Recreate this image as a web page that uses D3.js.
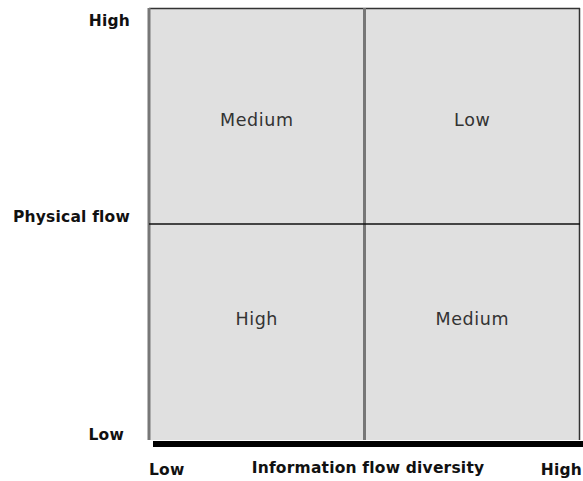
<!DOCTYPE html>
<html>
<head>
<meta charset="utf-8">
<script src="https://cdn.jsdelivr.net/npm/d3@7"></script>
<style>
  body { margin: 0; background: #fff; }
  svg { display: block; }
</style>
</head>
<body>
<svg id="chart" width="583" height="481"></svg>
<script>
// data
const xLevels = ["Low", "High"];
const yLevels = ["Low", "High"];
const xTitle = "Information flow diversity";
const yTitle = "Physical flow";
// ratings per cell, rows top to bottom
const topRow = ["Medium", "Low"];
const bottomRow = ["High", "Medium"];

const width = 583, height = 481;
const margin = { top: 8, right: 3, bottom: 41, left: 149 };
const svg = d3.select("#chart");

const x = d3.scaleBand().domain(xLevels).range([margin.left, width - margin.right]);
const y = d3.scaleBand().domain(yLevels.slice().reverse()).range([margin.top, height - margin.bottom]);

const cells = [];
topRow.forEach((r, i) => cells.push({ col: xLevels[i], row: "High", rating: r }));
bottomRow.forEach((r, i) => cells.push({ col: xLevels[i], row: "Low", rating: r }));

// label nudge per row (labels are not exactly centred in the original)
const rowNudge = { High: 5, Low: -12 };

// background box
svg.append("rect")
    .attr("x", margin.left).attr("y", margin.top)
    .attr("width", width - margin.left - margin.right)
    .attr("height", height - margin.top - margin.bottom)
    .attr("fill", "#e0e0e0");

// box edges
svg.append("line").attr("x1", margin.left).attr("x2", width - margin.right)
    .attr("y1", margin.top + 0.5).attr("y2", margin.top + 0.5)
    .attr("stroke", "#333").attr("stroke-width", 1.5);
svg.append("line").attr("x1", width - margin.right - 0.5).attr("x2", width - margin.right - 0.5)
    .attr("y1", margin.top).attr("y2", height - margin.bottom)
    .attr("stroke", "#333").attr("stroke-width", 1.5);
svg.append("line").attr("x1", margin.left).attr("x2", margin.left)
    .attr("y1", margin.top).attr("y2", height - margin.bottom)
    .attr("stroke", "#777").attr("stroke-width", 3);

// dividers
svg.append("line").attr("x1", x("High")).attr("x2", x("High"))
    .attr("y1", margin.top).attr("y2", height - margin.bottom)
    .attr("stroke", "#777").attr("stroke-width", 3);
svg.append("line").attr("x1", margin.left).attr("x2", width - margin.right)
    .attr("y1", y("Low")).attr("y2", y("Low"))
    .attr("stroke", "#111").attr("stroke-width", 1.5);

// thick bottom axis bar
svg.append("rect")
    .attr("x", margin.left + 4).attr("y", height - margin.bottom + 1)
    .attr("width", width - margin.left - 4)
    .attr("height", 6)
    .attr("fill", "#000");

// cell labels
svg.selectAll("text.cell").data(cells).enter().append("text")
    .attr("class", "cell")
    .attr("x", d => x(d.col) + x.bandwidth() / 2)
    .attr("y", d => y(d.row) + y.bandwidth() / 2 + rowNudge[d.row])
    .attr("text-anchor", "middle")
    .attr("dominant-baseline", "middle")
    .attr("font-family", "DejaVu Sans")
    .attr("font-size", 17.5)
    .attr("letter-spacing", 0.6)
    .attr("fill", "#333")
    .text(d => d.rating);

const bold = sel => sel.attr("font-family", "DejaVu Sans").attr("font-weight", "bold")
    .attr("font-size", 15.5).attr("letter-spacing", 0.2).attr("fill", "#111");

// y axis labels
svg.append("text").call(bold).attr("x", 130).attr("y", 26).attr("text-anchor", "end").text(yLevels[1]);
svg.append("text").call(bold).attr("x", 130).attr("y", 222).attr("text-anchor", "end").text(yTitle);
svg.append("text").call(bold).attr("x", 124).attr("y", 440).attr("text-anchor", "end").text(yLevels[0]);

// x axis labels
svg.append("text").call(bold).attr("x", 149).attr("y", 475).attr("text-anchor", "start").text(xLevels[0]);
svg.append("text").call(bold).attr("x", 368).attr("y", 473).attr("text-anchor", "middle").text(xTitle);
svg.append("text").call(bold).attr("x", 582).attr("y", 475).attr("text-anchor", "end").text(xLevels[1]);
</script>
</body>
</html>
